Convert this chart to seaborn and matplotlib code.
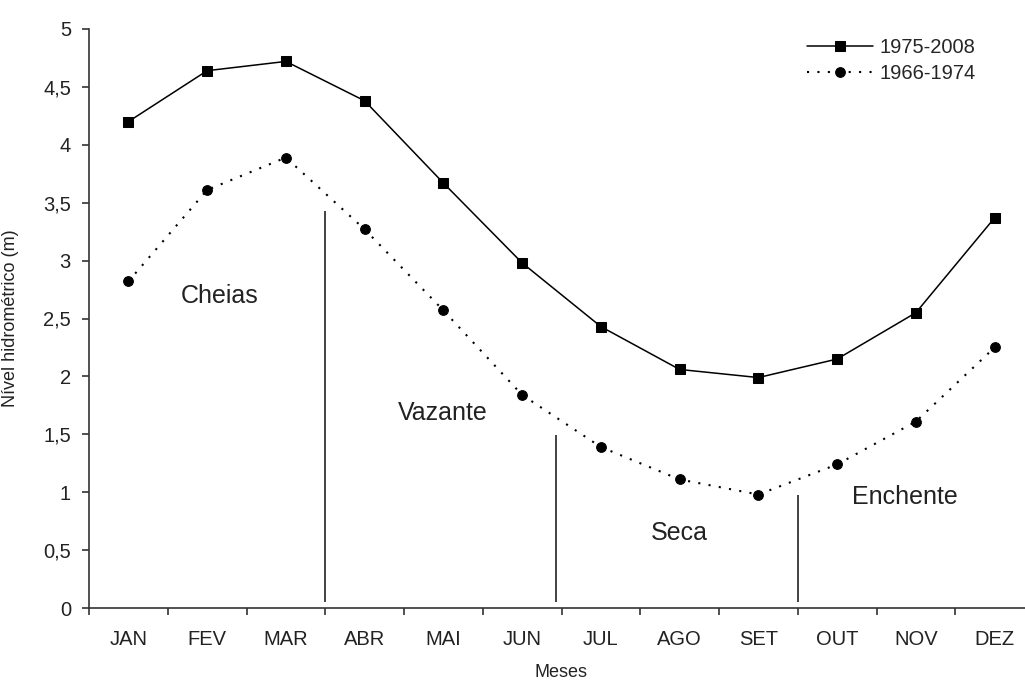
import numpy as np
import pandas as pd
import seaborn as sns
import matplotlib.pyplot as plt

# monthly mean water level (m)
meses = ['JAN', 'FEV', 'MAR', 'ABR', 'MAI', 'JUN', 'JUL', 'AGO', 'SET', 'OUT', 'NOV', 'DEZ']
nivel_1975_2008 = [4.20, 4.64, 4.72, 4.38, 3.67, 2.98, 2.43, 2.06, 1.99, 2.15, 2.55, 3.37]
nivel_1966_1974 = [2.82, 3.61, 3.89, 3.27, 2.57, 1.84, 1.39, 1.11, 0.98, 1.24, 1.61, 2.25]

# hydrological periods: separators and labels
divisoes_x = [2.5, 5.43, 8.5]
divisoes_topo = [3.43, 1.49, 0.98]
periodos = ['Cheias', 'Vazante', 'Seca', 'Enchente']
periodos_x = [1.16, 3.99, 6.99, 9.86]
periodos_y = [2.69, 1.68, 0.65, 0.96]

sns.set_style('white')
plt.rcParams['font.family'] = ['Liberation Sans', 'DejaVu Sans']

df_a = pd.DataFrame({'mes': meses, 'nivel': nivel_1975_2008})
df_b = pd.DataFrame({'mes': meses, 'nivel': nivel_1966_1974})

fig = plt.figure(figsize=(10.25, 6.8), dpi=100)
ax = fig.add_axes([89 / 1025, 72 / 680, 945 / 1025, 579 / 680])

sns.lineplot(data=df_a, x='mes', y='nivel', ax=ax, color='black', lw=1.1,
             marker='s', markersize=7.5, markeredgecolor='black', label='1975-2008', sort=False)
sns.lineplot(data=df_b, x='mes', y='nivel', ax=ax, color='black', lw=1.5,
             linestyle=(0, (1, 4)), marker='o', markersize=7, markeredgecolor='black',
             label='1966-1974', sort=False)

ax.vlines(divisoes_x, 0.05, divisoes_topo, color='#222222', lw=1.2)
for nome, px, py in zip(periodos, periodos_x, periodos_y):
    ax.text(px, py, nome, fontsize=18, ha='center', va='center', color='#222222')

ax.set_xlim(-0.5, 11.5)
ax.set_ylim(0, 5)
ax.set_xticks(np.arange(-0.5, 12, 1))
ax.set_xticklabels([])
ax.set_xticks(range(len(meses)), minor=True)
ax.set_xticklabels(meses, minor=True, fontsize=14.5, color='#222222')
ax.tick_params(axis='x', which='major', direction='out', length=5, width=1.2,
               color='#333333', bottom=True)
ax.tick_params(axis='x', which='minor', length=0, pad=16)

yt = np.arange(0, 5.01, 0.5)
ax.set_yticks(yt)
ax.set_yticklabels([f'{v:g}'.replace('.', ',') for v in yt], fontsize=14.5, color='#222222')
ax.tick_params(axis='y', direction='out', length=5, width=1.2, color='#333333', left=True, pad=8)

for s in ['top', 'right']:
    ax.spines[s].set_visible(False)
for s in ['left', 'bottom']:
    ax.spines[s].set_color('#333333')
    ax.spines[s].set_linewidth(1.2)

ax.set_xlabel('Meses', fontsize=13, color='#222222')
ax.set_ylabel('Nível hidrométrico (m)', fontsize=13, color='#222222')
ax.xaxis.set_label_coords(0.5, -0.097)
ax.yaxis.set_label_coords(-0.074, 0.5)

ax.legend(loc='upper left', bbox_to_anchor=(807 / 1025, 1 - 38 / 680),
          bbox_transform=fig.transFigure, frameon=False, fontsize=14.5,
          handlelength=3.3, handletextpad=0.3, borderpad=0, borderaxespad=0,
          labelspacing=0.35)

fig.savefig('out.png', dpi=100, facecolor='white')
